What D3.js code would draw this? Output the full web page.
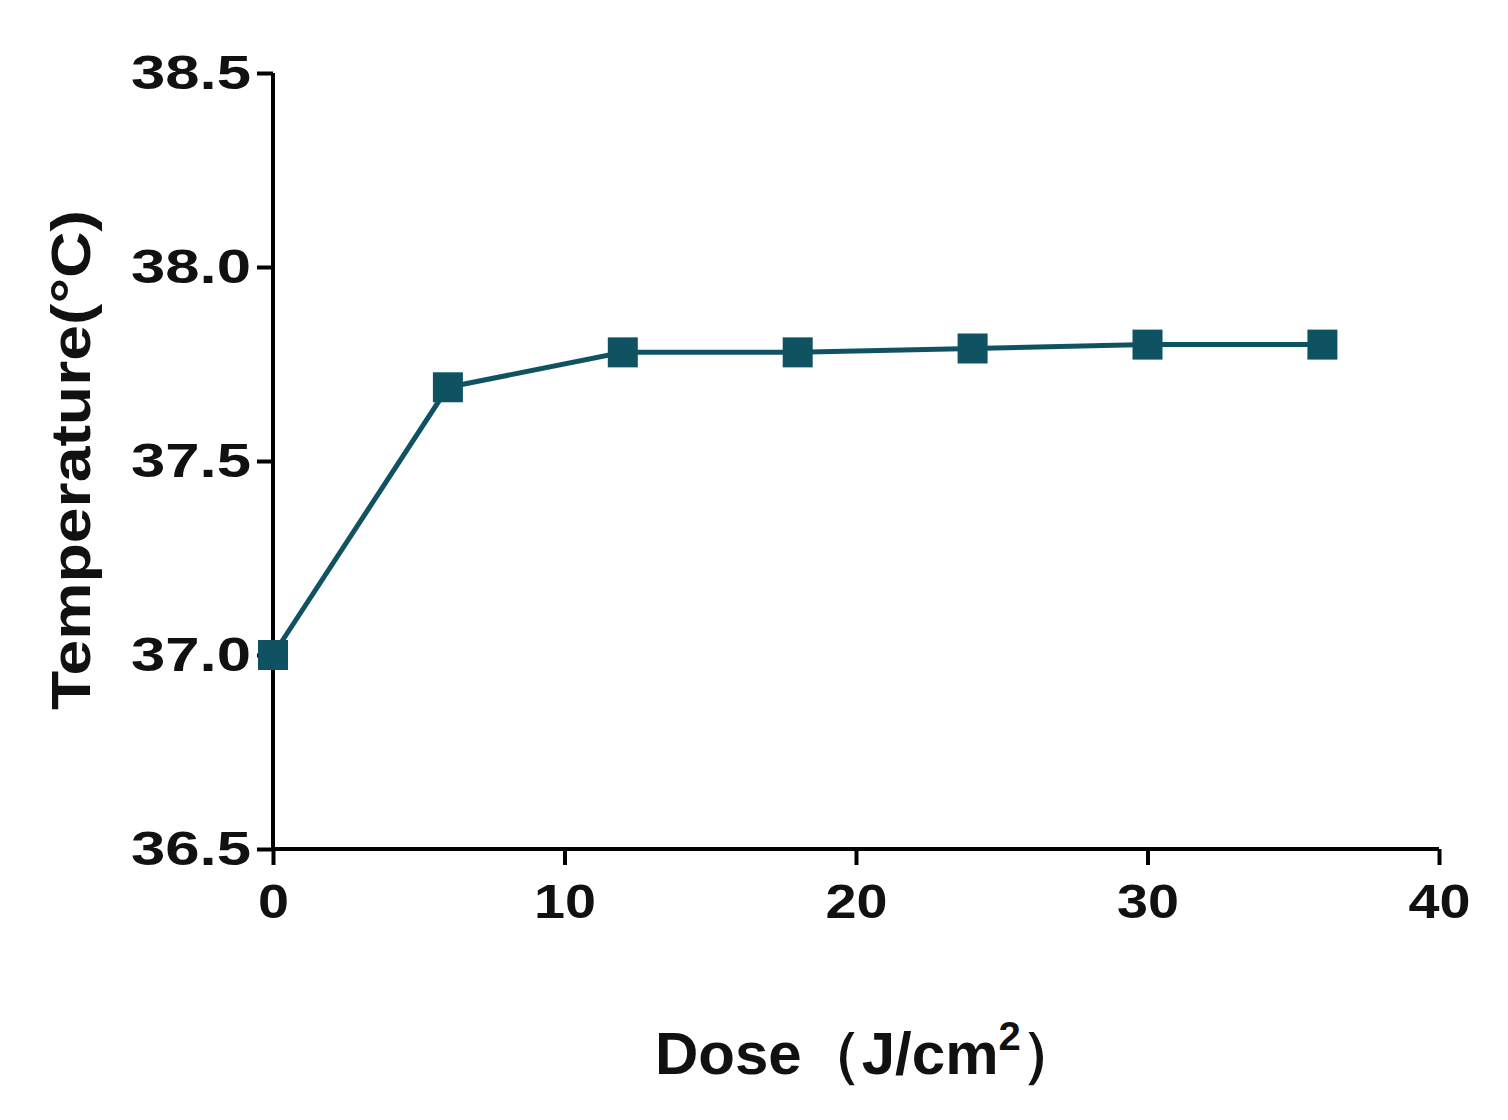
<!DOCTYPE html><html><head><meta charset="utf-8"><script src="https://cdn.jsdelivr.net/npm/d3@7"></script>
<style>body{margin:0;background:#fff}text{font-family:"Liberation Sans",Arial,sans-serif;font-weight:bold}</style></head><body>
<svg id="c" width="1508" height="1120"></svg>
<script>
const doses=[0,6,12,18,24,30,36];
const temps=[37.0,37.69,37.78,37.78,37.79,37.80,37.80];
const xTicks=[0,10,20,30,40];
const yTicks=[36.5,37.0,37.5,38.0,38.5];
const svg=d3.select("#c");
const x=d3.scaleLinear().domain([0,40]).range([273,1439]);
const y=d3.scaleLinear().domain([36.5,38.5]).range([849,73]);
const col="#0f5363";
const xa=svg.append("g").attr("transform","translate(0,849)").call(d3.axisBottom(x).tickValues(xTicks).tickSize(16).tickPadding(12).tickFormat(d3.format("d")));
const ya=svg.append("g").attr("transform","translate(273,0)").call(d3.axisLeft(y).tickValues(yTicks).tickSize(16).tickPadding(6).tickFormat(d3.format(".1f")));
[xa,ya].forEach(a=>{a.selectAll("path,line").attr("stroke","#000").attr("stroke-width",4);a.select(".domain").attr("d",a===xa?"M273,0H1439":"M0,849V73");a.selectAll("text").attr("font-size",48).attr("fill","#111");});
xa.selectAll("text").attr("dy","0.85em").attr("textLength",d=>d===0?31:62).attr("lengthAdjust","spacingAndGlyphs");
ya.selectAll("text").attr("textLength",120).attr("lengthAdjust","spacingAndGlyphs");
svg.append("path").datum(doses.map((d,i)=>[d,temps[i]])).attr("fill","none").attr("stroke",col).attr("stroke-width",5)
 .attr("d",d3.line().x(d=>x(d[0])).y(d=>y(d[1])));
svg.selectAll("rect.m").data(doses).enter().append("rect").attr("x",d=>x(d)-15).attr("y",(d,i)=>y(temps[i])-15).attr("width",30).attr("height",30).attr("fill",col);
svg.append("text").attr("transform","translate(90,460) rotate(-90)").attr("text-anchor","middle").attr("font-size",56).attr("fill","#111")
 .attr("textLength",500).attr("lengthAdjust","spacingAndGlyphs").text("Temperature(°C)");
const t=svg.append("text").attr("x",655).attr("y",1074).attr("font-size",60).attr("fill","#111");
t.append("tspan").text("Dose（J/cm");
t.append("tspan").attr("dy",-24).attr("font-size",40).text("2");
t.append("tspan").attr("dy",24).text("）");
</script></body></html>
